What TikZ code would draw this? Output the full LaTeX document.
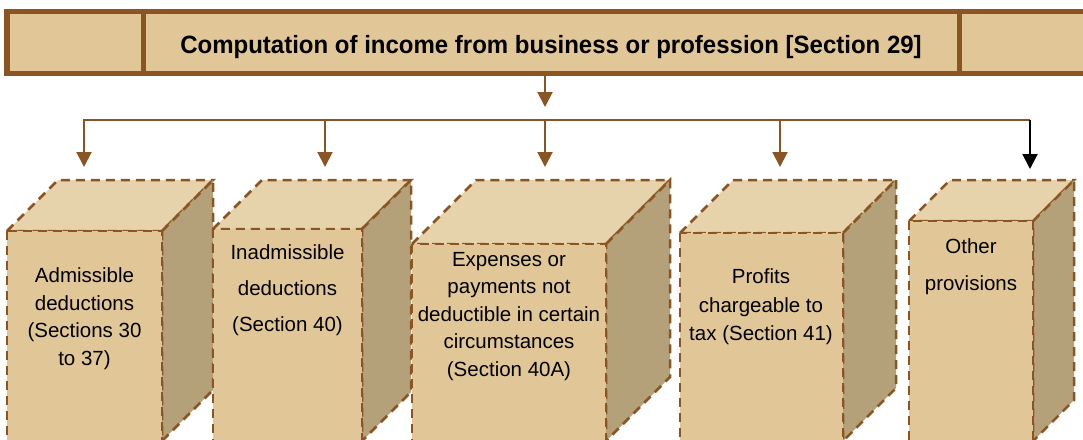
\documentclass[tikz,border=0pt]{standalone}
\usepackage{fontspec}
\setmainfont{Liberation Sans}
\newfontfamily\headfont{Liberation Sans}[FakeStretch=0.96]
\usetikzlibrary{arrows.meta}

\definecolor{boxbrown}{HTML}{8B5523}
\definecolor{boxfront}{HTML}{E1C797}
\definecolor{boxtop}{HTML}{E6D3AB}
\definecolor{boxside}{HTML}{B4A079}

\tikzset{
  face/.style={draw=boxbrown, line width=2.5pt, dash pattern=on 9pt off 6pt},
  conn/.style={draw=boxbrown, line width=2pt},
  arr/.style={conn, -{Triangle[width=15pt,length=15pt]}},
  boxtext/.style={align=center, inner sep=0pt, font=\fontsize{20.5}{27.5}\selectfont},
  widetext/.style={boxtext, font=\fontsize{20.5}{36}\selectfont},
}

\begin{document}
\begin{tikzpicture}[x=1pt, y=-1pt]
  \useasboundingbox (0,0) rectangle (1083,439);
  \clip (0,0) rectangle (1083,439);

  % heading bar
  \node[draw=boxbrown, fill=boxfront, line width=5.5pt, inner sep=0pt,
        minimum width=1088pt, minimum height=62pt] (banner) at (551,42.5) {};
  \draw[boxbrown, line width=5pt] (143,11.5) -- (143,73.5);
  \draw[boxbrown, line width=5pt] (959.5,11.5) -- (959.5,73.5);
  \node[anchor=base, inner sep=0pt, font=\headfont\fontsize{25}{29}\selectfont\bfseries] (title) at (551,53.3)
    {Computation of income from business or profession [Section 29]};

  % box 1
  \fill[boxtop, face] (7,231) -- (58,180) -- (213,180) -- (162,231) -- cycle;
  \fill[boxside, face] (162,231) -- (213,180) -- (213,390) -- (162,441) -- cycle;
  \fill[boxfront, face] (7,231) rectangle (162,441);
  % box 2
  \fill[boxtop, face] (213,229) -- (262,180) -- (411,180) -- (362,229) -- cycle;
  \fill[boxside, face] (362,229) -- (411,180) -- (411,392) -- (362,441) -- cycle;
  \fill[boxfront, face] (213,229) rectangle (362,441);
  % box 3
  \fill[boxtop, face] (412,244) -- (476,180) -- (670,180) -- (606,244) -- cycle;
  \fill[boxside, face] (606,244) -- (670,180) -- (670,377) -- (606,441) -- cycle;
  \fill[boxfront, face] (412,244) rectangle (606,441);
  % box 4
  \fill[boxtop, face] (680,233) -- (733,180) -- (896,180) -- (843,233) -- cycle;
  \fill[boxside, face] (843,233) -- (896,180) -- (896,388) -- (843,441) -- cycle;
  \fill[boxfront, face] (680,233) rectangle (843,441);
  % box 5
  \fill[boxtop, face] (909,221) -- (950,180) -- (1074,180) -- (1033,221) -- cycle;
  \fill[boxside, face] (1033,221) -- (1074,180) -- (1074,400) -- (1033,441) -- cycle;
  \fill[boxfront, face] (909,221) rectangle (1033,441);

  \node[boxtext] (admissible) at (84.5,318.7) {Admissible\\deductions\\(Sections 30\\to 37)};
  \node[widetext] (inadmissible) at (287.5,290.5) {Inadmissible\\deductions\\(Section 40)};
  \node[boxtext] (expenses) at (509,316.5) {Expenses or\\payments not\\deductible in certain\\circumstances\\(Section 40A)};
  \node[boxtext, font=\fontsize{20.5}{28.7}\selectfont] (profits) at (761,306.7) {Profits\\chargeable to\\tax (Section 41)};
  \node[widetext, font=\fontsize{20.5}{37.4}\selectfont] (other) at (971,266.7) {Other\\provisions};

  % connectors
  \coordinate (split) at (545,107);
  \coordinate (busL) at (84,120);
  \coordinate (busR) at (1030,120);
  \coordinate (t1) at (84,167);
  \coordinate (t2) at (325,167);
  \coordinate (t3) at (545,167);
  \coordinate (t4) at (780,167);
  \coordinate (t5) at (1030,169);

  \draw[arr] (banner.south -| split) -- (split);
  \draw[arr] (busR) -- (busL) -- (t1);
  \draw[arr] (t2 |- busL) -- (t2);
  \draw[arr] (t3 |- busL) -- (t3);
  \draw[arr] (t4 |- busL) -- (t4);
  \draw[arr, draw=black] (busR) -- (t5);
\end{tikzpicture}
\end{document}
